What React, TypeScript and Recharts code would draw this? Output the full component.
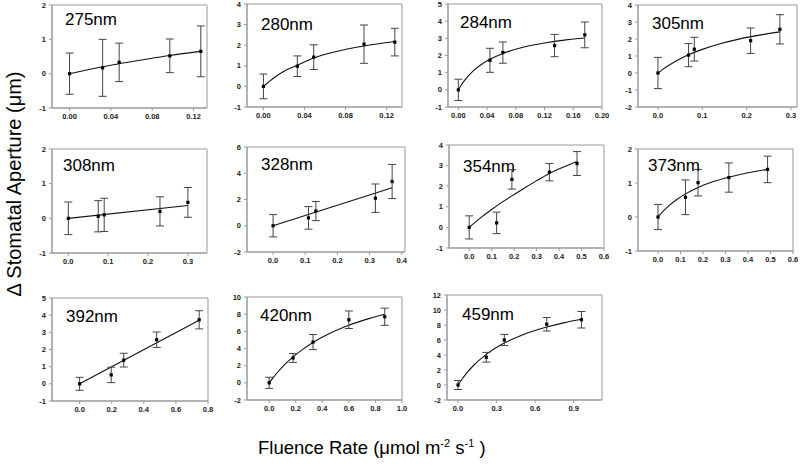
import React from 'react';
import { ComposedChart, XAxis, YAxis, Line, Scatter, ErrorBar, ReferenceArea } from 'recharts';

// ---- data ----
const wavelengths = ['275nm', '280nm', '284nm', '305nm', '308nm', '328nm', '354nm', '373nm', '392nm', '420nm', '459nm'];

const fluence = [
  [0, 0.032, 0.048, 0.097, 0.127],
  [0, 0.033, 0.049, 0.098, 0.128],
  [0, 0.044, 0.062, 0.134, 0.176],
  [0, 0.069, 0.082, 0.209, 0.275],
  [0, 0.075, 0.09, 0.23, 0.3],
  [0, 0.11, 0.133, 0.318, 0.37],
  [0, 0.122, 0.19, 0.357, 0.48],
  [0, 0.122, 0.178, 0.315, 0.487],
  [0, 0.197, 0.275, 0.48, 0.745],
  [0, 0.18, 0.33, 0.6, 0.87],
  [0, 0.22, 0.36, 0.69, 0.96],
];

const aperture = [
  [0, 0.17, 0.33, 0.52, 0.65],
  [0, 0.98, 1.42, 2.05, 2.15],
  [0, 1.72, 2.17, 2.58, 3.2],
  [0, 1.05, 1.4, 1.9, 2.57],
  [0, 0.06, 0.1, 0.2, 0.46],
  [0, 0.6, 1.12, 2.1, 3.37],
  [0, 0.22, 2.33, 2.68, 3.1],
  [0, 0.58, 1.01, 1.16, 1.4],
  [0, 0.52, 1.38, 2.57, 3.73],
  [0, 2.9, 4.75, 7.35, 7.7],
  [0, 3.7, 6.0, 8.1, 8.7],
];

const errors = [
  [0.6, 0.83, 0.56, 0.49, 0.74],
  [0.6, 0.5, 0.6, 0.93, 0.67],
  [0.62, 0.7, 0.62, 0.65, 0.75],
  [0.92, 0.68, 0.7, 0.75, 0.86],
  [0.47, 0.45, 0.48, 0.42, 0.43],
  [0.85, 0.86, 0.73, 1.08, 1.3],
  [0.56, 0.52, 0.47, 0.42, 0.58],
  [0.37, 0.51, 0.39, 0.43, 0.39],
  [0.38, 0.45, 0.4, 0.45, 0.53],
  [0.65, 0.52, 0.88, 1.02, 1.0],
  [0.6, 0.65, 0.75, 0.9, 1.1],
];

const fitX = [
  [0, 0.032, 0.048, 0.07, 0.097, 0.127],
  [0, 0.01, 0.02, 0.033, 0.049, 0.07, 0.098, 0.128],
  [0, 0.005, 0.01, 0.02, 0.03, 0.044, 0.062, 0.09, 0.12, 0.15, 0.176],
  [0, 0.01, 0.025, 0.045, 0.069, 0.1, 0.14, 0.18, 0.23, 0.275],
  [0, 0.3],
  [0, 0.37],
  [0, 0.05, 0.1, 0.15, 0.2, 0.25, 0.3, 0.357, 0.42, 0.48],
  [0, 0.02, 0.05, 0.085, 0.122, 0.178, 0.25, 0.315, 0.4, 0.487],
  [0, 0.745],
  [0, 0.03, 0.07, 0.12, 0.18, 0.25, 0.33, 0.45, 0.6, 0.75, 0.87],
  [0, 0.03, 0.07, 0.12, 0.22, 0.36, 0.5, 0.69, 0.83, 0.96],
];

const fitY = [
  [0, 0.2, 0.29, 0.4, 0.53, 0.65],
  [0, 0.41, 0.74, 1.03, 1.38, 1.68, 1.96, 2.18],
  [0, 0.34, 0.62, 1.08, 1.42, 1.78, 2.12, 2.48, 2.73, 2.91, 3.02],
  [0, 0.2, 0.46, 0.77, 1.07, 1.39, 1.72, 1.98, 2.23, 2.42],
  [0, 0.37],
  [0, 2.9],
  [0, 0.46, 0.87, 1.25, 1.6, 1.94, 2.27, 2.62, 2.93, 3.2],
  [0, 0.15, 0.34, 0.52, 0.68, 0.87, 1.05, 1.17, 1.3, 1.4],
  [0, 3.7],
  [0, 0.61, 1.35, 2.17, 3.02, 3.87, 4.7, 5.71, 6.7, 7.48, 8.0],
  [0, 0.76, 1.65, 2.6, 4.09, 5.59, 6.67, 7.73, 8.32, 8.76],
];

const xTicks = [
  [0, 0.04, 0.08, 0.12],
  [0, 0.04, 0.08, 0.12],
  [0, 0.04, 0.08, 0.12, 0.16, 0.2],
  [0, 0.1, 0.2, 0.3],
  [0, 0.1, 0.2, 0.3],
  [0, 0.1, 0.2, 0.3, 0.4],
  [0, 0.1, 0.2, 0.3, 0.4, 0.5, 0.6],
  [0, 0.1, 0.2, 0.3, 0.4, 0.5, 0.6],
  [0, 0.2, 0.4, 0.6, 0.8],
  [0, 0.2, 0.4, 0.6, 0.8, 1.0],
  [0, 0.3, 0.6, 0.9],
];
const xDecimals = [2, 2, 2, 1, 1, 1, 1, 1, 1, 1, 1];

const yTicks = [
  [-1, 0, 1, 2],
  [-1, 0, 1, 2, 3, 4],
  [-1, 0, 1, 2, 3, 4, 5],
  [-2, -1, 0, 1, 2, 3, 4],
  [-1, 0, 1, 2],
  [-2, 0, 2, 4, 6],
  [-1, 0, 1, 2, 3, 4],
  [-1, 0, 1, 2],
  [-1, 0, 1, 2, 3, 4, 5],
  [-2, 0, 2, 4, 6, 8, 10],
  [-2, 0, 2, 4, 6, 8, 10, 12],
];

const xDomains = [
  [-0.017, 0.133],
  [-0.016, 0.135],
  [-0.0144, 0.2],
  [-0.045, 0.3136],
  [-0.041, 0.348],
  [-0.081, 0.41],
  [-0.09, 0.6],
  [-0.089, 0.6],
  [-0.172, 0.8],
  [-0.167, 1.0],
  [-0.086, 1.12],
];

// ---- layout: plot box [left, top, right, bottom] and title baseline ----
const boxes = [
  [52, 5, 207, 108],
  [247, 4, 402, 107],
  [448, 4, 602, 107],
  [638, 5, 797, 107],
  [52, 149, 207, 253],
  [247, 147, 405, 252],
  [449, 145, 604, 248],
  [638, 149, 793, 251],
  [52, 298, 208, 401],
  [247, 297, 402, 400],
  [447, 295, 602, 400],
];
const titlePos = [
  [65, 25], [261, 30], [460, 28], [652, 29],
  [63, 171], [261, 170], [463, 172], [648, 171],
  [66, 322], [260, 321], [462, 320],
];

const AXIS = '#999';
const FONT = '"Liberation Sans", Arial, sans-serif';

const Square = (props: any) => {
  const { cx, cy } = props;
  if (cx == null || cy == null) return null;
  return <rect x={cx - 1.6} y={cy - 1.6} width={3.2} height={3.2} fill="#000" />;
};

function Panel({ i }: { i: number }) {
  const [l, t, r, b] = boxes[i];
  const yW = 26;
  const mt = 3;
  const mr = 12;
  const xH = 22;
  const w = r - l + yW + mr;
  const h = b - t + mt + xH;
  const pts = fluence[i].map((x, j) => ({ x, y: aperture[i][j], e: errors[i][j] }));
  const fit = fitX[i].map((x, j) => ({ x, y: fitY[i][j] }));
  const yd = [yTicks[i][0], yTicks[i][yTicks[i].length - 1]];
  const tickStyle = { fontSize: 7.5, fill: '#222', fontWeight: 700 };
  return (
    <div style={{ position: 'absolute', left: l - yW, top: t - mt }}>
      <ComposedChart width={w} height={h} margin={{ top: mt, right: mr, bottom: 0, left: 0 }}>
        <XAxis
          type="number"
          dataKey="x"
          domain={xDomains[i]}
          ticks={xTicks[i]}
          allowDataOverflow
          interval={0}
          height={xH}
          stroke={AXIS}
          tickSize={3}
          tickMargin={3}
          tick={tickStyle}
          tickFormatter={(v: number) => v.toFixed(xDecimals[i])}
        />
        <YAxis
          type="number"
          domain={yd}
          ticks={yTicks[i]}
          allowDataOverflow
          interval={0}
          width={yW}
          stroke={AXIS}
          tickSize={3}
          tickMargin={3}
          tick={tickStyle}
        />
        <ReferenceArea
          x1={xDomains[i][0]}
          x2={xDomains[i][1]}
          y1={yd[0]}
          y2={yd[1]}
          fill="none"
          fillOpacity={0}
          stroke={AXIS}
          strokeWidth={1}
          ifOverflow="visible"
        />
        <Line
          data={fit}
          dataKey="y"
          type="monotone"
          dot={false}
          stroke="#111"
          strokeWidth={1.1}
          isAnimationActive={false}
        />
        <Scatter data={pts} dataKey="y" shape={Square} isAnimationActive={false}>
          <ErrorBar dataKey="e" direction="y" width={4} stroke="#444" strokeWidth={1} />
        </Scatter>
      </ComposedChart>
    </div>
  );
}

export default function App() {
  return (
    <div
      style={{
        position: 'absolute',
        left: 0,
        top: 0,
        width: 800,
        height: 468,
        background: '#fff',
        fontFamily: FONT,
        overflow: 'hidden',
      }}
    >
      {wavelengths.map((_, i) => (
        <Panel key={i} i={i} />
      ))}
      <svg
        width={800}
        height={468}
        style={{ position: 'absolute', left: 0, top: 0, pointerEvents: 'none' }}
        fontFamily={FONT}
      >
        {wavelengths.map((wl, i) => (
          <text key={wl} x={titlePos[i][0]} y={titlePos[i][1]} fontSize={17} fill="#000">
            {wl}
          </text>
        ))}
        <text
          x={21}
          y={184}
          fontSize={20}
          fill="#000"
          textAnchor="middle"
          transform="rotate(-90 21 184)"
        >
          Δ Stomatal Aperture (μm)
        </text>
        <text x={258} y={454} fontSize={18.5} fill="#000">
          Fluence Rate (μmol m
          <tspan fontSize={11} dy={-7}>-2</tspan>
          <tspan dy={7}> s</tspan>
          <tspan fontSize={11} dy={-7}>-1</tspan>
          <tspan dy={7}>{'  )'}</tspan>
        </text>
      </svg>
    </div>
  );
}
